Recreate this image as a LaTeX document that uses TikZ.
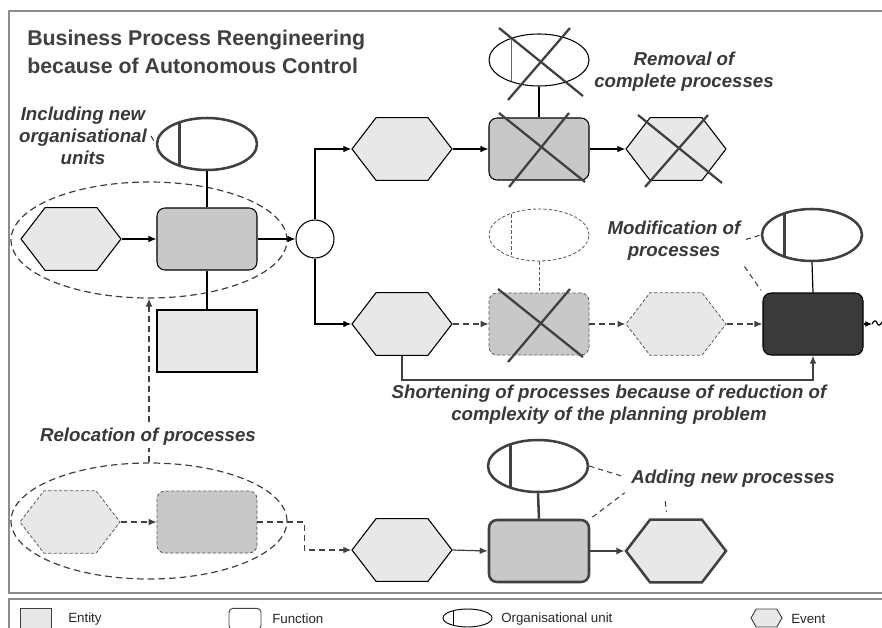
\documentclass[tikz,border=0pt]{standalone}
\usepackage{fontspec}
\setmainfont{Liberation Sans}
\usetikzlibrary{shapes.symbols,shapes.geometric,arrows.meta}
\definecolor{dk}{HTML}{404040}
\definecolor{lblc}{HTML}{383838}
\definecolor{evfill}{HTML}{E8E8E8}
\definecolor{fnfill}{HTML}{C8C8C8}
\definecolor{darkfn}{HTML}{3A3A3A}
\definecolor{framegray}{HTML}{8C8C8C}
\definecolor{ghost}{HTML}{5A5A5A}
\tikzset{
  tipA/.style={-{Latex[length=6pt,width=5pt]}},
  evbox/.style={signal, signal to=west and east, signal pointer angle=105,
    minimum width=75pt, minimum height=47pt, fill=evfill, draw=black, line width=0.8pt, inner sep=0pt},
  fnbox/.style={rectangle, rounded corners=6pt, minimum width=75pt, minimum height=46.5pt,
    fill=fnfill, draw=black, line width=0.8pt, inner sep=0pt},
  entbox/.style={rectangle, minimum width=75pt, minimum height=46.5pt,
    fill=evfill, draw=black, line width=0.8pt, inner sep=0pt},
  oubox/.style={ellipse, minimum width=75pt, minimum height=39pt, inner sep=0pt, fill=white,
    path picture={\draw[#1] ([xshift=17pt]path picture bounding box.north west) -- ([xshift=17pt]path picture bounding box.south west);}},
  outhick/.style={oubox={dk,line width=1.9pt}, draw=dk, line width=1.9pt},
  outhin/.style={oubox={black!60,line width=0.7pt}, draw=black, line width=0.8pt},
  oughost/.style={oubox={ghost,line width=0.6pt,dash pattern=on 2.5pt off 1.5pt}, draw=ghost, line width=0.6pt, dash pattern=on 2.5pt off 1.5pt},
  ghostline/.style={draw=ghost, line width=0.6pt, dash pattern=on 2.5pt off 1.5pt},
  thickline/.style={draw=dk, line width=1.9pt},
  grp/.style={ellipse, draw=dk, line width=0.9pt, dash pattern=on 5pt off 3pt, minimum width=207pt, minimum height=87pt, inner sep=0pt},
  conn/.style={draw=black, line width=0.9pt, tipA},
  dconn/.style={draw=dk, line width=0.9pt, dash pattern=on 4.5pt off 3pt, tipA},
  annot/.style={draw=dk, line width=0.8pt, dash pattern=on 4pt off 3pt},
  xline/.style={draw=dk, line width=1.7pt},
  lbl/.style={font=\bfseries\itshape\fontsize{14}{16.5}\selectfont, text=lblc, align=center, inner sep=0pt},
  legtxt/.style={font=\fontsize{10}{12}\selectfont, text=black!85, anchor=west, inner sep=0pt}
}
\begin{document}
\begin{tikzpicture}[x=0.75pt,y=-0.75pt]
\useasboundingbox (0,0) rectangle (882,628);
% frames
\draw[framegray, line width=1.1pt] (892,11) -- (9,11) -- (9,593) -- (892,593);
\draw[framegray, line width=1.1pt] (892,599) -- (9,599) -- (9,640);
% title
\node[anchor=north west, inner sep=0pt, align=left, text=dk,
  font=\bfseries\fontsize{16}{21}\selectfont] (title) at (27,30) {Business Process Reengineering\\because of Autonomous Control};

% group ellipses
\node[grp] (g1) at (149,240) {};
\node[grp] (g2) at (149,521) {};

% first process
\node[evbox] (h1) at (71,239) {};
\node[fnbox] (f1) at (207,239) {};
\node[outhick] (o1) at (207,144) {};
\node[entbox] (e1) at (207,341) {};
\node[circle, draw=black, fill=white, minimum size=28.5pt, inner sep=0pt, line width=0.8pt] (c1) at (315,239) {};
\draw[conn] (h1.east) -- (f1.west);
\draw[conn] (f1.east) -- (c1.west);
\draw[draw=black, line width=0.9pt] (o1.south) -- (f1.north);
\draw[draw=black, line width=0.9pt] (f1.south) -- (e1.north);

% upper branch (removed)
\node[evbox] (h2) at (402,149) {};
\node[fnbox] (f2) at (539,149) {};
\node[outhin] (o2) at (539,60) {};
\node[evbox] (h4) at (676,149) {};
\draw[conn] (c1.north) |- (h2.west);
\draw[conn] (h2.east) -- (f2.west);
\draw[conn] (f2.east) -- (h4.west);
\draw[draw=black, line width=1.2pt] (o2.south) -- (f2.north);
\draw[xline] ([shift={(-40,-32)}]o2.center) -- ([shift={(44,36)}]o2.center);
\draw[xline] ([shift={(31,-32)}]o2.center) -- ([shift={(-31,40)}]o2.center);
\draw[xline] ([shift={(-40,-36)}]f2.center) -- ([shift={(46,33)}]f2.center);
\draw[xline] ([shift={(30,-36)}]f2.center) -- ([shift={(-30,38)}]f2.center);
\draw[xline] ([shift={(-38,-34)}]h4.center) -- ([shift={(46,34)}]h4.center);
\draw[xline] ([shift={(32,-34)}]h4.center) -- ([shift={(-31,38)}]h4.center);

% middle branch (shortened / modified)
\node[evbox] (h3) at (402,324) {};
\node[fnbox, ghostline] (f3) at (539,324) {};
\node[oughost] (o5) at (539,235) {};
\node[evbox, ghostline] (h7) at (676,324) {};
\node[fnbox, fill=darkfn] (f6) at (813,324) {};
\node[outhick] (o3) at (812,235) {};
\draw[conn] (c1.south) |- (h3.west);
\draw[dconn] (h3.east) -- (f3.west);
\draw[dconn] (f3.east) -- (h7.west);
\draw[dconn] (h7.east) -- (f6.west);
\draw[ghostline] (o5.south) -- (f3.north);
\draw[draw=black, line width=0.9pt] (o3.south) -- (f6.north);
\draw[xline] ([shift={(-41,-35)}]f3.center) -- ([shift={(44,33)}]f3.center);
\draw[xline] ([shift={(31,-35)}]f3.center) -- ([shift={(-31,38)}]f3.center);
\draw[draw=dk, line width=1.5pt, -{Latex[length=6pt,width=5pt]}] (h3.south) -- ++(0,24) -| (f6.south);
\coordinate (wv) at (872,324);
\draw[draw=black, line width=0.9pt, -{Latex[length=5pt,width=4.5pt]}] (f6.east) -- (wv);
\draw[draw=black, line width=0.9pt] (wv) .. controls (874,320) and (876,320) .. (877,323) .. controls (878,326) and (880,326) .. (882,322);

% bottom: relocated and added processes
\node[evbox, ghostline] (h8) at (70,522) {};
\node[fnbox, ghostline] (f4) at (207,522) {};
\node[evbox] (h5) at (402,550) {};
\node[fnbox, thickline] (f5) at (539,551) {};
\node[outhick] (o4) at (538,466) {};
\node[evbox, thickline] (h6) at (676,551) {};
\draw[dconn] (h8.east) -- (f4.west);
\draw[dconn] (f4.east) -- ++(47,0) |- (h5.west);
\draw[draw=dk, line width=0.9pt, tipA] (h5.east) -- (f5.west);
\draw[draw=dk, line width=1.9pt, -{Latex[length=6pt,width=5.5pt]}] (f5.east) -- (h6.west);
\draw[draw=dk, line width=1.9pt] (o4.south) -- (f5.north);

% labels
\node[lbl] (lInc) at (83,136) {Including new\\organisational\\units};
\draw[annot] ([shift={(4,0)}]lInc.east) -- (o1.west);
\node[lbl] (lRem) at (684,72) {Removal of\\complete processes};
\node[lbl] (lMod) at (674,241) {Modification of\\processes};
\draw[annot, shorten <=4pt, shorten >=1pt] (lMod.east) -- (o3.west);
\draw[annot, shorten <=5pt, shorten >=2pt] (lMod.south east) -- (f6.north west);
\node[lbl] (lSho) at (609,405) {Shortening of processes because of reduction of\\complexity of the planning problem};
\draw[dconn] (g2.north) -- (g1.south);
\node[lbl, fill=white, inner sep=2pt] (lRel) at (148,437) {Relocation of processes};
\node[lbl] (lAdd) at (733,479) {Adding new processes};
\draw[annot, shorten >=7pt] (o4.east) -- (lAdd.west);
\draw[annot, shorten <=2pt, shorten >=6pt] (f5.north east) -- (lAdd.south west);
\draw[annot, shorten <=10pt, shorten >=5pt] ([shift={(-69,0)}]lAdd.south) -- ([shift={(-9,0)}]h6.north);

% legend
\node[rectangle, draw=dk, fill=evfill, line width=0.7pt, minimum width=23.25pt, minimum height=16pt, inner sep=0pt] (kEnt) at (35.5,619) {};
\node[legtxt] (tEnt) at (68,619) {Entity};
\node[rectangle, rounded corners=3pt, draw=dk, fill=white, line width=0.7pt, minimum width=24pt, minimum height=16pt, inner sep=0pt] (kFn) at (245,619) {};
\node[legtxt] (tFn) at (272,619) {Function};
\node[ellipse, draw=black, fill=white, line width=0.7pt, minimum width=36.75pt, minimum height=13.5pt, inner sep=0pt,
  path picture={\draw[black, line width=0.7pt] ([xshift=7.5pt]path picture bounding box.north west) -- ([xshift=7.5pt]path picture bounding box.south west);}] (kOu) at (467.5,618) {};
\node[legtxt] (tOu) at (501,619) {Organisational unit};
\node[signal, signal to=west and east, signal pointer angle=120, draw=dk, fill=evfill, line width=0.7pt, minimum width=23.25pt, minimum height=13.5pt, inner sep=0pt] (kEv) at (766.5,618) {};
\node[legtxt] (tEv) at (791,619) {Event};
\end{tikzpicture}
\end{document}
